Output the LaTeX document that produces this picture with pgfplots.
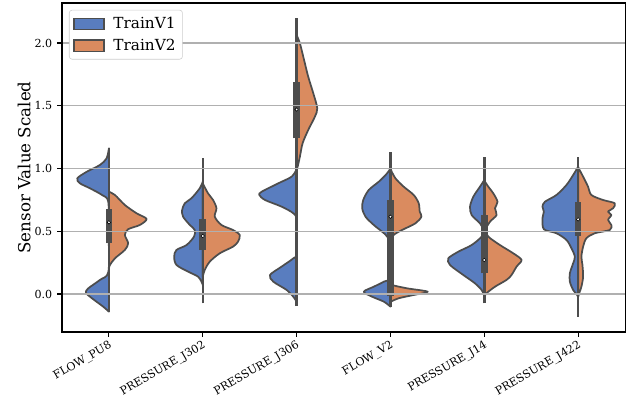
\documentclass[border=0pt]{standalone}
\usepackage{pgfplots}
\pgfplotsset{compat=1.18}
\usepackage{fontspec}
\setmainfont{DejaVu Serif}
\definecolor{vblue}{RGB}{89,125,191}
\definecolor{vorange}{RGB}{218,139,95}
\definecolor{edgec}{RGB}{77,77,77}
\definecolor{gridc}{RGB}{176,176,176}
\definecolor{legc}{RGB}{204,204,204}
\pgfplotsset{
  vb/.style={fill=vblue, draw=edgec, line width=1.25pt, line join=round, smooth, tension=0.5, forget plot},
  vo/.style={fill=vorange, draw=edgec, line width=1.25pt, line join=round, smooth, tension=0.5, forget plot},
  wh/.style={edgec, line width=1.8pt, forget plot},
  bx/.style={edgec, line width=4.8pt, forget plot},
  md/.style={only marks, mark=*, mark size=1.25pt, mark options={fill=white, draw=none}, forget plot},
}
\begin{document}
\begin{tikzpicture}
\begin{axis}[
  scale only axis, width=405.4pt, height=236.9pt,
  xmin=-0.5, xmax=5.5, ymin=-0.303, ymax=2.319,
  xtick={0,1,2,3,4,5},
  xticklabels={FLOW\_PU8,PRESSURE\_J302,PRESSURE\_J306,FLOW\_V2,PRESSURE\_J14,PRESSURE\_J422},
  ytick={0,0.5,1,1.5,2},
  yticklabel style={/pgf/number format/.cd, fixed, fixed zerofill, precision=1},
  /pgf/number format/assume math mode=true,
  tick label style={font=\fontsize{8}{9.6}\selectfont},
  xticklabel style={rotate=30, anchor=north east, inner sep=1.5pt},
  tick align=outside, major tick length=3.5pt,
  tick style={black, line width=0.8pt},
  xtick pos=bottom, ytick pos=left,
  axis line style={black, line width=0.8pt},
  ymajorgrids=true,
  major grid style={gridc, line width=0.8pt},
  axis on top,
  ylabel={Sensor Value Scaled},
  ylabel style={font=\fontsize{12}{14}\selectfont},
  ylabel shift=-4pt,
  legend image code/.code={\draw[#1, sharp corners] (0pt,-4pt) rectangle (21.6pt,4pt); \path (26pt,0pt);},
  legend style={at={(0.0124,0.979)}, anchor=north west, draw=legc, rounded corners=2pt,
    fill=white, font=\fontsize{11}{13}\selectfont, row sep=2pt, inner sep=3pt},
  legend cell align=left,
]
\addlegendimage{fill=vblue, draw=edgec, line width=0.8pt}
\addlegendentry{TrainV1}
\addlegendimage{fill=vorange, draw=edgec, line width=0.8pt}
\addlegendentry{TrainV2}

% ---- FLOW_PU8 (0)
\addplot[vb] table[x expr={0-\thisrow{w}}, y=y, row sep=\\] {
y w \\ 1.161 0 \\ 1.081 0.025 \\ 1.028 0.096 \\ 0.975 0.234 \\ 0.922 0.337 \\ 0.882 0.309 \\ 0.842 0.202 \\ 0.789 0.074 \\ 0.735 0.007 \\ 0.484 0.003 \\ 0.178 0.005 \\ 0.112 0.096 \\ 0.045 0.220 \\ 0.010 0.245 \\ -0.034 0.181 \\ -0.101 0.061 \\ -0.141 0 \\
} -- cycle;
\addplot[vo] table[x expr={0+\thisrow{w}}, y=y, row sep=\\] {
y w \\ 0.815 0 \\ 0.789 0.064 \\ 0.709 0.170 \\ 0.643 0.295 \\ 0.598 0.401 \\ 0.550 0.330 \\ 0.516 0.205 \\ 0.470 0.170 \\ 0.404 0.205 \\ 0.351 0.170 \\ 0.284 0.064 \\ 0.231 0.011 \\ 0.205 0 \\
} -- cycle;
\addplot[wh] coordinates {(0,-0.141) (0,1.161)};
\addplot[bx] coordinates {(0,0.404) (0,0.677)};
\addplot[md] coordinates {(0,0.571)};

% ---- PRESSURE_J302 (1)
\addplot[vb] table[x expr={1-\thisrow{w}}, y=y, row sep=\\] {
y w \\ 0.895 0 \\ 0.842 0.032 \\ 0.763 0.120 \\ 0.723 0.191 \\ 0.669 0.220 \\ 0.616 0.210 \\ 0.550 0.138 \\ 0.510 0.085 \\ 0.457 0.093 \\ 0.390 0.173 \\ 0.351 0.280 \\ 0.297 0.305 \\ 0.231 0.280 \\ 0.178 0.156 \\ 0.138 0.050 \\ 0.098 0.014 \\ 0.072 0 \\
} -- cycle;
\addplot[vo] table[x expr={1+\thisrow{w}}, y=y, row sep=\\] {
y w \\ 0.882 0 \\ 0.802 0.056 \\ 0.749 0.110 \\ 0.683 0.146 \\ 0.616 0.128 \\ 0.550 0.199 \\ 0.510 0.322 \\ 0.470 0.394 \\ 0.417 0.376 \\ 0.377 0.322 \\ 0.324 0.181 \\ 0.257 0.074 \\ 0.191 0.021 \\ 0.138 0 \\
} -- cycle;
\addplot[wh] coordinates {(1,-0.074) (1,1.08)};
\addplot[bx] coordinates {(1,0.35) (1,0.60)};
\addplot[md] coordinates {(1,0.462)};

% ---- PRESSURE_J306 (2)
\addplot[vb] table[x expr={2-\thisrow{w}}, y=y, row sep=\\] {
y w \\ 0.994 0 \\ 0.935 0.053 \\ 0.882 0.195 \\ 0.815 0.372 \\ 0.789 0.397 \\ 0.749 0.337 \\ 0.696 0.160 \\ 0.643 0.035 \\ 0.590 0.003 \\ 0.324 0.003 \\ 0.284 0.035 \\ 0.218 0.160 \\ 0.151 0.284 \\ 0.098 0.248 \\ 0.032 0.106 \\ -0.022 0.035 \\ -0.061 0 \\
} -- cycle;
\addplot[vo] table[x expr={2+\thisrow{w}}, y=y, row sep=\\] {
y w \\ 2.064 0 \\ 1.998 0.035 \\ 1.891 0.071 \\ 1.731 0.124 \\ 1.599 0.178 \\ 1.480 0.220 \\ 1.413 0.195 \\ 1.307 0.124 \\ 1.201 0.064 \\ 1.094 0.035 \\ 1.014 0.011 \\ 0.988 0 \\
} -- cycle;
\addplot[wh] coordinates {(2,-0.096) (2,2.197)};
\addplot[bx] coordinates {(2,1.24) (2,1.69)};
\addplot[md] coordinates {(2,1.47)};

% ---- FLOW_V2 (3)
\addplot[vb] table[x expr={3-\thisrow{w}}, y=y, row sep=\\] {
y w \\ 1.001 0 \\ 0.962 0.035 \\ 0.895 0.124 \\ 0.829 0.231 \\ 0.749 0.290 \\ 0.683 0.301 \\ 0.616 0.266 \\ 0.550 0.178 \\ 0.496 0.088 \\ 0.457 0.035 \\ 0.390 0.005 \\ 0.138 0.005 \\ 0.098 0.071 \\ 0.058 0.178 \\ 0.018 0.284 \\ -0.022 0.195 \\ -0.061 0.071 \\ -0.101 0 \\
} -- cycle;
\addplot[vo] table[x expr={3+\thisrow{w}}, y=y, row sep=\\] {
y w \\ 0.996 0 \\ 0.922 0.053 \\ 0.855 0.141 \\ 0.789 0.248 \\ 0.723 0.301 \\ 0.656 0.312 \\ 0.616 0.330 \\ 0.563 0.266 \\ 0.510 0.124 \\ 0.470 0.035 \\ 0.417 0.005 \\ 0.098 0.005 \\ 0.072 0.018 \\ 0.045 0.178 \\ 0.018 0.397 \\ -0.008 0.248 \\ -0.034 0.088 \\ -0.061 0.007 \\ -0.074 0 \\
} -- cycle;
\addplot[wh] coordinates {(3,-0.10) (3,1.134)};
\addplot[bx] coordinates {(3,-0.02) (3,0.749)};
\addplot[md] coordinates {(3,0.616)};

% ---- PRESSURE_J14 (4)
\addplot[vb] table[x expr={4-\thisrow{w}}, y=y, row sep=\\] {
y w \\ 0.908 0 \\ 0.855 0.046 \\ 0.775 0.117 \\ 0.696 0.152 \\ 0.629 0.135 \\ 0.563 0.046 \\ 0.510 0.011 \\ 0.457 0.029 \\ 0.390 0.135 \\ 0.337 0.277 \\ 0.284 0.383 \\ 0.231 0.365 \\ 0.151 0.223 \\ 0.085 0.099 \\ 0.032 0.029 \\ -0.008 0 \\
} -- cycle;
\addplot[vo] table[x expr={4+\thisrow{w}}, y=y, row sep=\\] {
y w \\ 0.903 0 \\ 0.855 0.043 \\ 0.802 0.096 \\ 0.735 0.141 \\ 0.683 0.114 \\ 0.629 0.131 \\ 0.576 0.061 \\ 0.510 0.014 \\ 0.457 0.043 \\ 0.390 0.167 \\ 0.324 0.309 \\ 0.271 0.397 \\ 0.218 0.344 \\ 0.151 0.290 \\ 0.112 0.237 \\ 0.058 0.114 \\ 0.006 0.024 \\ -0.022 0 \\
} -- cycle;
\addplot[wh] coordinates {(4,-0.074) (4,1.094)};
\addplot[bx] coordinates {(4,0.165) (4,0.63)};
\addplot[md] coordinates {(4,0.271)};

% ---- PRESSURE_J422 (5)
\addplot[vb] table[x expr={5-\thisrow{w}}, y=y, row sep=\\] {
y w \\ 1.014 0 \\ 0.948 0.053 \\ 0.869 0.124 \\ 0.789 0.231 \\ 0.735 0.354 \\ 0.696 0.380 \\ 0.656 0.365 \\ 0.603 0.380 \\ 0.516 0.365 \\ 0.484 0.231 \\ 0.430 0.124 \\ 0.364 0.071 \\ 0.297 0.035 \\ 0.245 0.053 \\ 0.165 0.088 \\ 0.098 0.088 \\ 0.032 0.053 \\ 0.000 0.018 \\ -0.022 0 \\
} -- cycle;
\addplot[vo] table[x expr={5+\thisrow{w}}, y=y, row sep=\\] {
y w \\ 1.010 0 \\ 0.935 0.053 \\ 0.855 0.106 \\ 0.789 0.141 \\ 0.749 0.266 \\ 0.723 0.390 \\ 0.683 0.372 \\ 0.656 0.319 \\ 0.629 0.354 \\ 0.590 0.319 \\ 0.550 0.354 \\ 0.510 0.337 \\ 0.484 0.178 \\ 0.444 0.088 \\ 0.377 0.053 \\ 0.297 0.035 \\ 0.231 0.046 \\ 0.138 0.053 \\ 0.058 0.035 \\ 0.006 0.011 \\ -0.022 0 \\
} -- cycle;
\addplot[wh] coordinates {(5,-0.18) (5,1.09)};
\addplot[bx] coordinates {(5,0.462) (5,0.735)};
\addplot[md] coordinates {(5,0.595)};

\coordinate (bl) at (rel axis cs:0,0);
\end{axis}
\pgfresetboundingbox
\path (bl) ++(-44.64pt,-47.52pt) rectangle ++(452.16pt,286.56pt);
\end{tikzpicture}
\end{document}
